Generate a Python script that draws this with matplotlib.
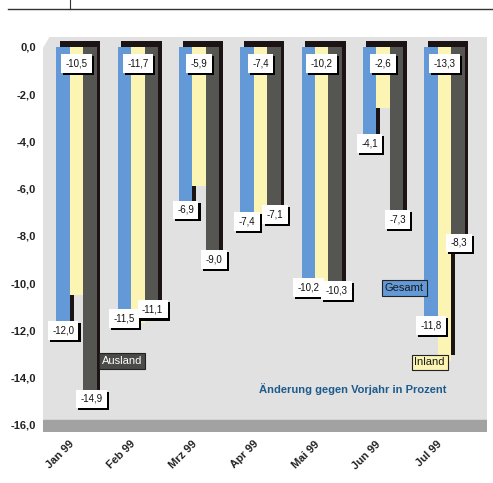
from matplotlib import pyplot as plt
from matplotlib import patheffects as pe
import numpy as np

monate = ["Jan 99", "Feb 99", "Mrz 99", "Apr 99", "Mai 99", "Jun 99", "Jul 99"]
gesamt = [-12.0, -11.5, -6.9, -7.4, -10.2, -4.1, -11.8]
inland = [-10.5, -11.7, -5.9, -7.4, -10.2, -2.6, -13.3]
ausland = [-14.9, -11.1, -9.0, -7.1, -10.3, -7.3, -8.3]
yticks = [0, -2, -4, -6, -8, -10, -12, -14, -16]

c_blau = "#6299d6"
c_gelb = "#fbf4b2"
c_dunkel = "#555552"
c_schatten = "#1c1414"

plt.rcParams["font.family"] = ["Liberation Sans", "DejaVu Sans"]

fig = plt.figure(figsize=(4.93, 4.83), dpi=100)
ax = fig.add_axes([0.087, 0.1056, 0.90, 0.817])
ax.set_facecolor("#e1e1e1")

x = np.arange(len(monate))
w = 0.22
dx, dy = 0.06, 0.25
serien = [(gesamt, c_blau, -0.24), (inland, c_gelb, -0.02), (ausland, c_dunkel, 0.20)]

# 3D-Schatten zuerst, dann die Vorderseite
for werte, farbe, off in serien:
    ax.bar(x + off + dx, np.array(werte), width=w, bottom=dy, color=c_schatten, zorder=2)
for werte, farbe, off in serien:
    ax.bar(x + off, werte, width=w, color=farbe, zorder=3)

def wert_label(xp, yp, v):
    t = ax.text(xp, yp, f"{v:.1f}".replace(".", ","), ha="center", va="center",
                fontsize=7, color="#111111", zorder=6,
                bbox=dict(boxstyle="square,pad=0.45", fc="white", ec="none"))
    t.get_bbox_patch().set_path_effects(
        [pe.withSimplePatchShadow(offset=(1.5, -1.5), shadow_rgbFace="black", alpha=1), pe.Normal()])

for i in range(len(monate)):
    wert_label(x[i] - 0.24, gesamt[i], gesamt[i])
    wert_label(x[i] - 0.02, -0.7, inland[i])
    wert_label(x[i] + 0.22, ausland[i], ausland[i])

# Legendenkaesten im Diagramm
ax.text(0.72, -13.3, "Ausland", ha="center", va="center", fontsize=8, color="white", zorder=6,
        bbox=dict(boxstyle="square,pad=0.25", fc="#4a4a48", ec="#222222", lw=0.8))
ax.text(5.33, -10.2, "Gesamt", ha="center", va="center", fontsize=8, color="#1a1a1a", zorder=6,
        bbox=dict(boxstyle="square,pad=0.25", fc=c_blau, ec="#222222", lw=0.8))
ax.text(5.74, -13.35, "Inland", ha="center", va="center", fontsize=8, color="#1a1a1a", zorder=6,
        bbox=dict(boxstyle="square,pad=0.25", fc=c_gelb, ec="#222222", lw=0.8))
ax.text(6.02, -14.5, "Änderung gegen Vorjahr in Prozent", ha="right", va="center",
        fontsize=8, fontweight="bold", color="#1d5b8c", zorder=6)

# Boden und abgeschraegte Ecke
ax.axhspan(-16.3, -15.8, color="#a2a2a2", zorder=1)
ax.fill([-0.57, -0.47, -0.57], [0.45, 0.45, 0.0], color="white", zorder=1)

ax.set_xlim(-0.57, 6.67)
ax.set_ylim(-16.3, 0.4)
ax.set_yticks(yticks)
ax.set_yticklabels([f"{v:.1f}".replace(".", ",") for v in yticks],
                   fontsize=8, fontweight="bold", color="#222222")
ax.set_xticks(x - 0.14)
ax.set_xticklabels(monate, rotation=45, ha="right", rotation_mode="anchor",
                   fontsize=8, fontweight="bold", color="#222222")
ax.tick_params(length=0, pad=5)
for s in ax.spines.values():
    s.set_visible(False)

# Linien am oberen Rand
fig.add_artist(plt.Line2D([0.016, 1.0], [0.981, 0.981], color="#333333", lw=1))
fig.add_artist(plt.Line2D([0.142, 0.142], [0.981, 1.0], color="#333333", lw=0.8))

plt.savefig("out.png", dpi=100)
